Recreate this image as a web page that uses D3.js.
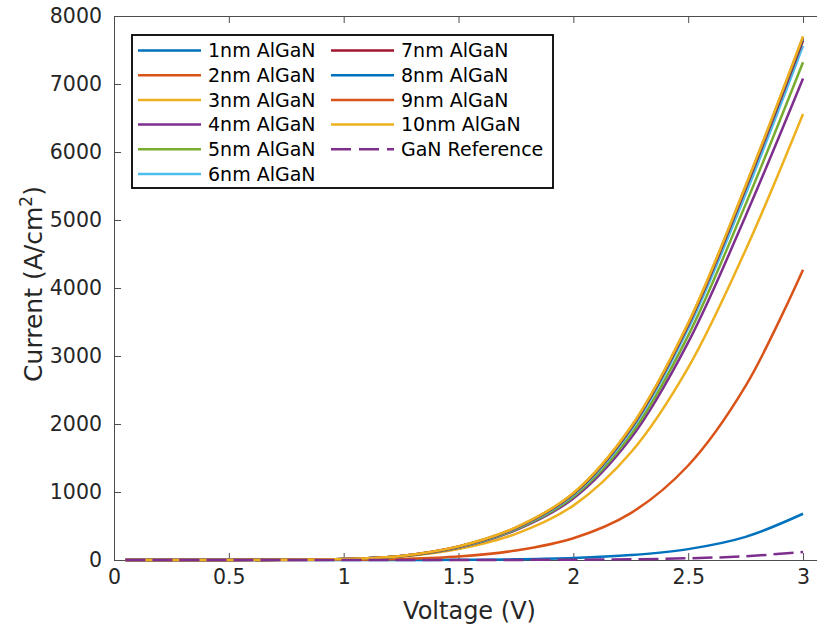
<!DOCTYPE html>
<html>
<head>
<meta charset="utf-8">
<script src="https://cdn.jsdelivr.net/npm/d3@7"></script>
<style>
  body { margin: 0; background: #fff; }
  svg { display: block; font-family: "DejaVu Sans", sans-serif; }
</style>
</head>
<body>
<svg id="chart" width="817" height="632"></svg>
<script>
var volts = [0.05, 0.25, 0.5, 0.75, 1.0, 1.25, 1.5, 1.75, 2.0, 2.25, 2.5, 2.75, 3.0];

var al1 = [0, 0, 0, 0, 0.3, 1, 3, 10, 28, 72, 160, 340, 680];
var al2 = [0, 0, 0.1, 0.5, 3, 15, 50, 140, 320, 690, 1390, 2560, 4270];
var al3 = [0, 0, 0.5, 3, 12, 48, 160, 385, 800, 1580, 2830, 4560, 6560];
var al4 = [0, 0, 0.6, 3.5, 14, 55, 180, 440, 905, 1790, 3200, 5060, 7080];
var al5 = [0, 0, 0.6, 3.6, 14, 56, 185, 450, 930, 1840, 3300, 5230, 7320];
var al6 = [0, 0, 0.6, 3.7, 15, 58, 190, 462, 955, 1900, 3400, 5380, 7560];
var al7 = [0, 0, 0.6, 3.8, 15, 59, 195, 470, 970, 1930, 3450, 5460, 7640];
var al8 = [0, 0, 0.6, 3.8, 15, 59, 197, 474, 975, 1940, 3465, 5480, 7670];
var al9 = [0, 0, 0.6, 3.8, 15, 60, 198, 477, 980, 1950, 3475, 5495, 7690];
var al10 = [0, 0, 0.6, 3.8, 15, 60, 200, 480, 985, 1955, 3485, 5505, 7700];
var ganRef = [0, 0, 0, 0, 0, 0.2, 0.6, 1.5, 4, 10, 25, 55, 117];

var names = ["1nm AlGaN", "2nm AlGaN", "3nm AlGaN", "4nm AlGaN", "5nm AlGaN", "6nm AlGaN",
    "7nm AlGaN", "8nm AlGaN", "9nm AlGaN", "10nm AlGaN", "GaN Reference"];
var colors = ["#0072BD", "#D95319", "#EDB120", "#7E2F8E", "#77AC30", "#4DBEEE",
    "#A2142F", "#0072BD", "#D95319", "#EDB120", "#7E2F8E"];
var xTicks = [0, 0.5, 1, 1.5, 2, 2.5, 3];
var yTicks = [0, 1000, 2000, 3000, 4000, 5000, 6000, 7000, 8000];

var allSeries = [al1, al2, al3, al4, al5, al6, al7, al8, al9, al10, ganRef];

var svg = d3.select("#chart");

var plotLeft = 114, plotRight = 826, plotTop = 16, plotBottom = 560;

var x = d3.scaleLinear().domain([0, 3.1]).range([plotLeft, plotRight]);
var y = d3.scaleLinear().domain([0, 8000]).range([plotBottom, plotTop]);

var axisColor = "#4d4d4d";

function styleAxis(g) {
    g.select(".domain").attr("stroke", axisColor).attr("stroke-width", 1);
    g.selectAll(".tick line").attr("stroke", axisColor);
    g.selectAll(".tick text").attr("fill", "#262626").style("font-size", "20.5px")
        .style("font-family", "DejaVu Sans, sans-serif");
}

// box: bottom, top, left, right
svg.append("g")
    .attr("transform", `translate(0,${plotBottom})`)
    .call(d3.axisBottom(x).tickValues(xTicks).tickFormat(d3.format("")).tickSizeInner(-7).tickSizeOuter(0).tickPadding(9))
    .call(styleAxis);

svg.append("g")
    .attr("transform", `translate(0,${plotTop})`)
    .call(d3.axisTop(x).tickValues(xTicks).tickFormat("").tickSizeInner(-7).tickSizeOuter(0))
    .call(styleAxis);

svg.append("g")
    .attr("transform", `translate(${plotLeft},0)`)
    .call(d3.axisLeft(y).tickValues(yTicks).tickFormat(d3.format("")).tickSizeInner(-7).tickSizeOuter(0).tickPadding(12))
    .call(styleAxis);

svg.append("g")
    .attr("transform", `translate(${plotRight},0)`)
    .call(d3.axisRight(y).tickValues(yTicks).tickFormat("").tickSizeInner(-7).tickSizeOuter(0))
    .call(styleAxis);

// curves
var line = d3.line()
    .x((d, i) => x(volts[i]))
    .y(d => y(d))
    .curve(d3.curveCatmullRom.alpha(0.5));

svg.append("g")
    .selectAll("path")
    .data(allSeries)
    .join("path")
    .attr("fill", "none")
    .attr("stroke", (d, i) => colors[i])
    .attr("stroke-width", 2.5)
    .attr("stroke-dasharray", (d, i) => i === 10 ? "20,7" : null)
    .attr("d", line);

// axis titles
svg.append("text")
    .attr("x", (x(0) + x(3)) / 2 + 11)
    .attr("y", 619)
    .attr("text-anchor", "middle")
    .attr("fill", "#262626")
    .style("font-size", "24px")
    .text("Voltage (V)");

var yl = svg.append("text")
    .attr("transform", "translate(42,284) rotate(-90)")
    .attr("text-anchor", "middle")
    .attr("fill", "#262626")
    .style("font-size", "25px");
yl.append("tspan").text("Current (A/cm");
yl.append("tspan").attr("dy", -10).style("font-size", "17px").text("2");
yl.append("tspan").attr("dy", 10).text(")");

// legend
var legend = svg.append("g");
legend.append("rect")
    .attr("x", 132).attr("y", 35)
    .attr("width", 421).attr("height", 153)
    .attr("fill", "#fff")
    .attr("stroke", "#000")
    .attr("stroke-width", 1.8);

var items = legend.selectAll("g.item")
    .data(names)
    .join("g")
    .attr("class", "item")
    .attr("transform", (d, i) => {
        var col = i < 6 ? 0 : 1;
        var row = i < 6 ? i : i - 6;
        return `translate(${col === 0 ? 138 : 331},${50.5 + row * 24.7})`;
    });

items.append("line")
    .attr("x1", 0).attr("x2", 63)
    .attr("stroke", (d, i) => colors[i])
    .attr("stroke-width", 2.5)
    .attr("stroke-dasharray", (d, i) => i === 10 ? "20,8" : null);

items.append("text")
    .attr("x", 70)
    .attr("dy", "0.36em")
    .attr("fill", "#000")
    .style("font-size", "19px")
    .text(d => d);
</script>
</body>
</html>
